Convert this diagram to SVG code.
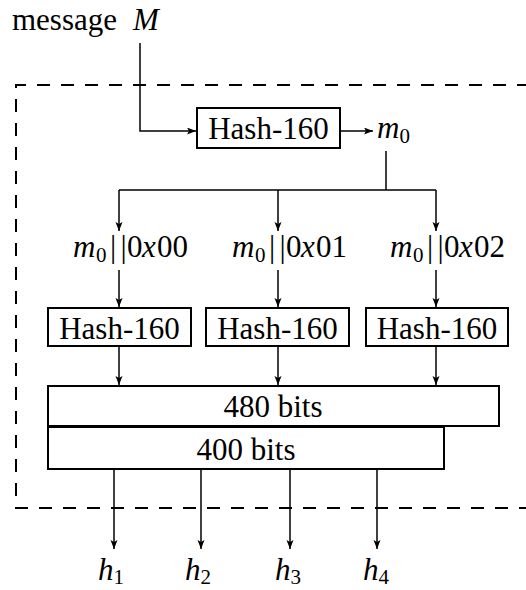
<svg xmlns="http://www.w3.org/2000/svg" width="526" height="590" viewBox="0 0 526 590">
<style>
text{font-size:31px;fill:#000}
.it{font-style:italic}
.sub{font-size:21px}
.box{fill:#fff;stroke:#000;stroke-width:2}
.ln{fill:none;stroke:#000;stroke-width:1.5}
.ar{marker-end:url(#ah)}
.dash{fill:none;stroke:#000;stroke-width:2;stroke-dasharray:13 11}
</style>
<defs>
<marker id="ah" markerUnits="userSpaceOnUse" markerWidth="10" markerHeight="8" refX="9" refY="3.5" orient="auto">
<path d="M0,0 L9,3.5 L0,7 L2,3.5 Z" fill="#000"/>
</marker>
</defs>
<g id="boundary">
<path class="dash" d="M530,85 H16 V508 H530"/>
</g>
<g id="connectors">
<path class="ln ar" d="M140,43 V131 H196"/>
<path class="ln ar" d="M340,131 H373"/>
<path class="ln" d="M386,151 V190 M119,190 H436"/>
<path class="ln ar" d="M119,190 V231"/>
<path class="ln ar" d="M278,190 V231"/>
<path class="ln ar" d="M436,190 V231"/>
<path class="ln ar" d="M119,270 V307"/>
<path class="ln ar" d="M278,270 V307"/>
<path class="ln ar" d="M436,270 V307"/>
<path class="ln ar" d="M119,346 V385"/>
<path class="ln ar" d="M278,346 V385"/>
<path class="ln ar" d="M436,346 V385"/>
<path class="ln ar" d="M114,469 V549"/>
<path class="ln ar" d="M201,469 V549"/>
<path class="ln ar" d="M290,469 V549"/>
<path class="ln ar" d="M377,469 V549"/>
</g>
<g font-family="Liberation Serif, DejaVu Serif, serif">
<g id="message">
<text x="12" y="30">message <tspan class="it" x="133">M</tspan></text>
</g>
<g id="hash0">
<rect class="box" x="197" y="108" width="143" height="40"/>
<text x="268.5" y="139" text-anchor="middle">Hash-160</text>
</g>
<g id="m0">
<text x="377" y="138"><tspan class="it">m</tspan><tspan class="sub" dy="5">0</tspan></text>
</g>
<g id="label0">
<text y="257"><tspan class="it" x="73">m</tspan><tspan class="sub" x="96" dy="5">0</tspan><tspan x="110" dy="-5">|</tspan><tspan x="120.5">|</tspan><tspan x="127">0</tspan><tspan class="it" x="142">x</tspan><tspan x="157">00</tspan></text>
</g>
<g id="label1">
<text y="257"><tspan class="it" x="232">m</tspan><tspan class="sub" x="255" dy="5">0</tspan><tspan x="269" dy="-5">|</tspan><tspan x="279.5">|</tspan><tspan x="286">0</tspan><tspan class="it" x="301">x</tspan><tspan x="316">01</tspan></text>
</g>
<g id="label2">
<text y="257"><tspan class="it" x="390">m</tspan><tspan class="sub" x="413" dy="5">0</tspan><tspan x="427" dy="-5">|</tspan><tspan x="437.5">|</tspan><tspan x="444">0</tspan><tspan class="it" x="459">x</tspan><tspan x="474">02</tspan></text>
</g>
<g id="hash1">
<rect class="box" x="48" y="308" width="143" height="38"/>
<text x="119.5" y="339" text-anchor="middle">Hash-160</text>
</g>
<g id="hash2">
<rect class="box" x="206" y="308" width="143" height="38"/>
<text x="277.5" y="339" text-anchor="middle">Hash-160</text>
</g>
<g id="hash3">
<rect class="box" x="366" y="308" width="142" height="38"/>
<text x="437" y="339" text-anchor="middle">Hash-160</text>
</g>
<g id="bits480">
<rect class="box" x="48" y="386" width="451" height="40"/>
<text x="273" y="417" text-anchor="middle">480 bits</text>
</g>
<g id="bits400">
<rect class="box" x="48" y="427" width="396" height="42"/>
<text x="246" y="460" text-anchor="middle">400 bits</text>
</g>
<g id="h1"><text x="98" y="580"><tspan class="it">h</tspan><tspan class="sub" dy="4">1</tspan></text></g>
<g id="h2"><text x="185" y="580"><tspan class="it">h</tspan><tspan class="sub" dy="4">2</tspan></text></g>
<g id="h3"><text x="275" y="580"><tspan class="it">h</tspan><tspan class="sub" dy="4">3</tspan></text></g>
<g id="h4"><text x="363" y="580"><tspan class="it">h</tspan><tspan class="sub" dy="4">4</tspan></text></g>
</g>
</svg>
